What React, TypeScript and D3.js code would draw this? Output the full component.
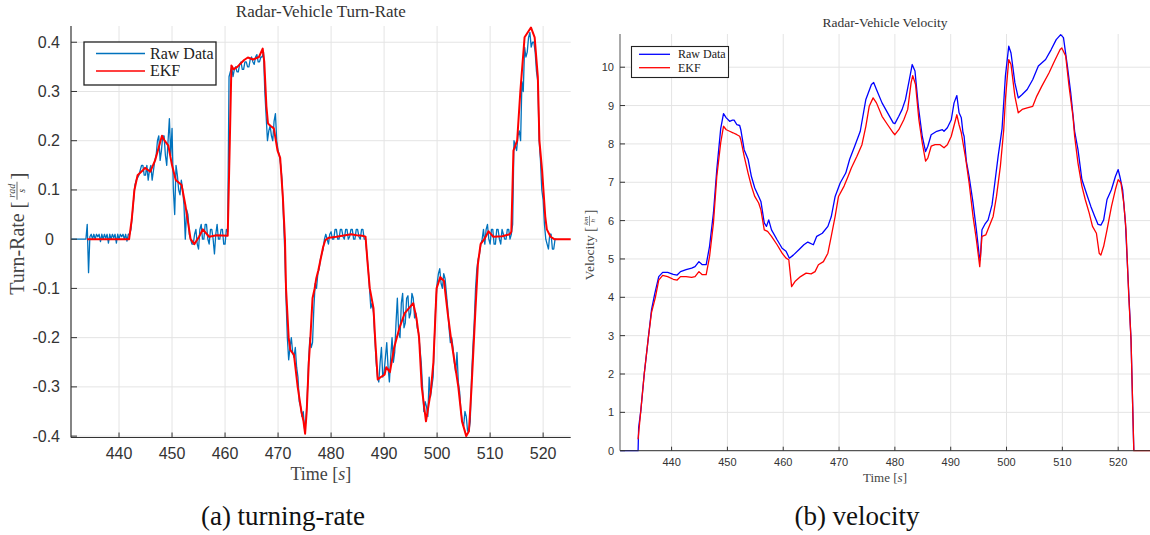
import React from 'react';
import * as d3 from 'd3';

// ---------- Data ----------
const timeTicks = [440, 450, 460, 470, 480, 490, 500, 510, 520];
const turnYTicks = [0.4, 0.3, 0.2, 0.1, 0, -0.1, -0.2, -0.3, -0.4];
const turnYTickLabels = ['0.4', '0.3', '0.2', '0.1', '0', '-0.1', '-0.2', '-0.3', '-0.4'];
const velYTicks = [0, 1, 2, 3, 4, 5, 6, 7, 8, 9, 10];

// raw turn-rate samples, every 0.25 s starting at 431 s (one row = 5 s)
const turnRawStart = 431;
const turnRawStep = 0.25;
const turnRaw = [
  0, 0, 0, 0, 0, 0, 0, 0, 0, 0, 0, 0, 0.03, -0.068, 0.005, 0.01, 0, 0.01, 0, 0.01,
  0.005, 0.01, -0.005, 0.01, 0, 0.01, 0.002, 0.01, -0.008, 0.01, 0, 0.01, 0.003, 0.01, -0.008, 0.01, 0, 0.01, 0.005, 0.01,
  0, 0.01, -0.004, 0.01, 0.01, 0.02, 0.05, 0.08, 0.11, 0.12, 0.125, 0.13, 0.14, 0.15, 0.15, 0.13, 0.13, 0.15, 0.12, 0.14,
  0.15, 0.12, 0.14, 0.16, 0.17, 0.2, 0.21, 0.16, 0.18, 0.21, 0.21, 0.17, 0.15, 0.2, 0.245, 0.17, 0.225, 0.1, 0.05, 0.15,
  0.13, 0.1, 0.09, 0.12, 0.1, 0.07, 0.0, 0.06, 0.05, 0.01, 0.0, -0.01, -0.01, 0.01, 0.02, -0.01, -0.02, 0.02, 0.03, 0.0,
  0.0, 0.03, 0.03, 0.0, -0.01, 0.02, 0.02, 0.0, -0.03, 0.01, 0.03, 0.0, 0.0, 0.02, 0.02, -0.01, -0.01, 0.02, 0.015, 0.33,
  0.34, 0.35, 0.33, 0.345, 0.35, 0.34, 0.34, 0.355, 0.36, 0.345, 0.345, 0.36, 0.36, 0.35, 0.35, 0.365, 0.37, 0.36, 0.355, 0.37,
  0.375, 0.36, 0.36, 0.37, 0.37, 0.38, 0.3, 0.25, 0.2, 0.22, 0.23, 0.21, 0.2, 0.24, 0.255, 0.2, 0.18, 0.17, 0.15, 0.12,
  0.05, -0.02, -0.12, -0.2, -0.245, -0.22, -0.2, -0.23, -0.24, -0.22, -0.26, -0.28, -0.33, -0.34, -0.36, -0.35, -0.385, -0.37, -0.32, -0.25,
  -0.2, -0.22, -0.21, -0.14, -0.09, -0.1, -0.07, -0.06, -0.04, -0.03, -0.02, 0.0, 0.01, 0.0, -0.01, 0.01, 0.015, 0.0, 0.0, 0.02,
  0.02, 0.0, 0.0, 0.02, 0.02, 0.005, 0.0, 0.02, 0.02, 0.0, 0.005, 0.02, 0.02, 0.0, 0.0, 0.02, 0.02, 0.005, 0.0, 0.02,
  0.02, 0.0, 0.0, -0.03, -0.06, -0.1, -0.14, -0.13, -0.15, -0.2, -0.25, -0.28, -0.29, -0.25, -0.22, -0.28, -0.27, -0.24, -0.21, -0.26,
  -0.29, -0.24, -0.2, -0.25, -0.23, -0.17, -0.12, -0.19, -0.2, -0.13, -0.11, -0.18, -0.17, -0.12, -0.115, -0.16, -0.15, -0.11, -0.12, -0.16,
  -0.15, -0.18, -0.19, -0.22, -0.25, -0.3, -0.35, -0.33, -0.34, -0.36, -0.28, -0.32, -0.3, -0.28, -0.2, -0.13, -0.09, -0.07, -0.06, -0.09,
  -0.1, -0.07, -0.08, -0.11, -0.14, -0.18, -0.21, -0.2, -0.22, -0.25, -0.27, -0.23, -0.29, -0.31, -0.35, -0.37, -0.38, -0.35, -0.36, -0.39,
  -0.39, -0.37, -0.28, -0.22, -0.17, -0.1, -0.06, -0.04, -0.03, -0.01, 0.0, 0.02, -0.01, 0.02, 0.03, 0.0, -0.01, 0.02, 0.02, -0.01,
  -0.01, 0.02, 0.02, 0.0, -0.01, 0.02, 0.01, 0.0, 0.0, 0.02, 0.02, 0.0, 0.01, 0.03, 0.2, 0.19, 0.18, 0.21, 0.22, 0.2,
  0.32, 0.3, 0.39, 0.37, 0.38, 0.41, 0.42, 0.39, 0.4, 0.4, 0.38, 0.34, 0.32, 0.2, 0.16, 0.1, 0.08, 0.03, 0.0, -0.01,
  -0.02, 0.01, 0.01, -0.02, -0.02, 0.0, 0.0,
];

const turnEkf: [number, number][] = [
  [434.0, 0], [441.9, 0], [442.4, 0.04], [442.9, 0.1], [443.5, 0.13], [444.5, 0.14], [444.9, 0.145],
  [445.9, 0.137], [446.8, 0.16], [448.1, 0.21], [448.6, 0.2], [449.3, 0.19], [450.0, 0.15],
  [450.7, 0.12], [451.8, 0.11], [452.5, 0.07], [453.5, 0.0], [454.2, -0.01], [455.1, 0.005],
  [455.8, 0.02], [457.0, 0.005], [458.4, 0.008], [460.5, 0.007], [460.9, 0.2], [461.2, 0.353],
  [461.6, 0.345], [462.3, 0.35], [463.6, 0.364], [464.3, 0.369], [465.3, 0.365], [466.4, 0.37],
  [467.1, 0.387], [467.4, 0.36], [467.8, 0.27], [468.1, 0.235], [468.6, 0.23], [469.2, 0.225],
  [469.9, 0.18], [470.4, 0.165], [470.9, 0.086], [471.3, 0.0], [471.5, -0.1], [472.0, -0.2],
  [472.3, -0.225], [473.0, -0.235], [473.7, -0.3], [474.4, -0.35], [474.8, -0.37], [475.1, -0.395],
  [475.4, -0.35], [475.8, -0.25], [476.1, -0.2], [476.5, -0.12], [476.9, -0.1], [477.2, -0.08],
  [477.6, -0.063], [478.5, -0.016], [478.9, -0.002], [479.6, 0.003], [481.0, 0.005], [482.7, 0.008],
  [483.8, 0.01], [484.8, 0.008], [485.9, 0.007], [486.5, 0.005], [486.9, -0.05], [487.3, -0.1],
  [488.0, -0.14], [488.3, -0.2], [488.8, -0.285], [489.4, -0.28], [490.1, -0.275], [490.4, -0.26],
  [491.1, -0.27], [491.9, -0.22], [492.9, -0.18], [493.9, -0.15], [495.1, -0.135], [495.5, -0.13],
  [496.1, -0.16], [496.6, -0.2], [497.1, -0.3], [497.9, -0.37], [498.5, -0.33], [498.8, -0.31],
  [499.3, -0.25], [499.9, -0.1], [500.6, -0.077], [501.3, -0.085], [502.0, -0.15], [502.6, -0.2],
  [503.3, -0.25], [504.0, -0.3], [504.7, -0.37], [505.5, -0.4], [506.0, -0.39], [506.5, -0.3],
  [507.2, -0.15], [507.7, -0.05], [508.2, -0.01], [508.9, 0.0], [509.7, 0.016], [510.6, 0.005],
  [512.3, 0.006], [513.7, 0.01], [514.0, 0.015], [514.4, 0.18], [515.1, 0.2], [515.7, 0.3],
  [516.5, 0.41], [517.7, 0.43], [518.4, 0.41], [519.0, 0.33], [519.3, 0.2], [519.8, 0.14],
  [520.4, 0.046], [520.7, 0.02], [521.4, 0.005], [522.1, 0], [525.2, 0],
];

const velRaw: [number, number][] = [
  [430.8, 0], [434.0, 0], [434.1, 0.6], [434.5, 1.06], [435.1, 2.0], [435.8, 2.9], [436.4, 3.67],
  [437.0, 4.1], [437.7, 4.54], [438.4, 4.65], [439.3, 4.65], [440.3, 4.6], [441.0, 4.58],
  [441.6, 4.67], [442.6, 4.72], [443.6, 4.76], [444.2, 4.8], [444.9, 4.93], [445.5, 4.85],
  [446.2, 4.85], [446.8, 5.33], [447.5, 6.2], [448.1, 7.33], [448.8, 8.4], [449.3, 8.79],
  [449.8, 8.68], [450.4, 8.59], [450.9, 8.62], [451.2, 8.62], [451.7, 8.5], [452.2, 8.48],
  [452.4, 8.37], [453.0, 7.85], [453.7, 7.6], [454.3, 7.15], [454.9, 6.85], [455.6, 6.63],
  [456.0, 6.5], [456.6, 5.94], [457.0, 5.85], [457.4, 6.02], [457.9, 5.76], [458.9, 5.5],
  [459.8, 5.28], [460.5, 5.2], [461.1, 5.02], [461.8, 5.1], [462.8, 5.24], [463.7, 5.37],
  [464.4, 5.44], [465.4, 5.37], [466.0, 5.59], [467.0, 5.67], [468.0, 5.85], [468.6, 6.1],
  [469.3, 6.63], [470.2, 6.98], [471.2, 7.24], [471.9, 7.6], [472.8, 7.94], [473.8, 8.33],
  [474.8, 9.16], [475.8, 9.55], [476.2, 9.6], [476.7, 9.42], [477.7, 9.07], [478.7, 8.81],
  [479.7, 8.55], [480.0, 8.53], [480.7, 8.72], [481.3, 8.9], [481.9, 9.16], [482.6, 9.68],
  [483.1, 10.07], [483.6, 9.9], [484.2, 8.98], [484.9, 8.2], [485.5, 7.8], [485.9, 7.94],
  [486.5, 8.24], [487.5, 8.33], [488.5, 8.37], [488.8, 8.33], [489.4, 8.42], [490.1, 8.63],
  [490.6, 9.07], [491.1, 9.26], [491.5, 8.81], [491.9, 8.68], [492.2, 8.29], [492.4, 8.2],
  [492.8, 7.55], [493.3, 7.15], [494.0, 6.46], [494.6, 5.76], [495.1, 5.1], [495.3, 4.98],
  [495.6, 5.76], [496.1, 5.9], [496.7, 6.02], [497.4, 6.41], [497.9, 6.98], [498.5, 7.68],
  [499.2, 8.4], [499.8, 9.77], [500.4, 10.55], [500.8, 10.37], [501.5, 9.59], [502.1, 9.2],
  [502.8, 9.29], [503.7, 9.42], [504.7, 9.68], [505.7, 10.03], [507.0, 10.2], [508.0, 10.46],
  [508.9, 10.72], [509.7, 10.85], [510.2, 10.77], [510.9, 10.03], [511.5, 9.33], [512.2, 8.33],
  [512.8, 7.85], [513.5, 7.07], [514.5, 6.63], [515.1, 6.37], [515.8, 6.11], [516.4, 5.9],
  [516.9, 5.88], [517.4, 6.02], [518.0, 6.55], [518.8, 6.81], [519.5, 7.15], [520.0, 7.33],
  [520.3, 7.15], [520.8, 6.81], [521.3, 5.94], [521.9, 4.1], [522.3, 2.9], [522.6, 1.15], [522.8, 0],
];

const velEkf: [number, number][] = [
  [434.0, 0.3], [434.5, 1.06], [435.1, 2.0], [435.8, 2.9], [436.4, 3.6], [437.1, 4.0], [437.7, 4.45],
  [438.4, 4.57], [439.3, 4.54], [440.3, 4.47], [441.0, 4.45], [441.6, 4.54], [442.6, 4.54],
  [443.6, 4.52], [444.2, 4.54], [444.9, 4.67], [445.5, 4.59], [446.2, 4.59], [446.8, 5.06],
  [447.5, 5.94], [448.1, 7.15], [448.8, 8.03], [449.3, 8.46], [449.8, 8.37], [450.4, 8.33],
  [451.0, 8.29], [451.7, 8.24], [452.2, 8.2], [452.4, 8.11], [453.0, 7.68], [453.7, 7.24],
  [454.3, 6.9], [454.9, 6.63], [455.6, 6.46], [456.0, 6.28], [456.6, 5.76], [457.2, 5.72],
  [457.9, 5.59], [458.9, 5.37], [459.8, 5.15], [460.5, 5.02], [461.0, 4.98], [461.5, 4.28],
  [462.1, 4.41], [463.1, 4.54], [464.1, 4.63], [465.0, 4.61], [465.7, 4.67], [466.3, 4.85],
  [467.2, 4.93], [468.0, 5.15], [468.6, 5.59], [469.3, 6.11], [469.9, 6.63], [470.9, 6.9],
  [471.5, 7.11], [472.2, 7.37], [473.2, 7.68], [474.1, 7.98], [474.8, 8.46], [475.4, 8.98],
  [476.1, 9.2], [476.7, 9.07], [477.7, 8.72], [478.7, 8.5], [479.7, 8.29], [480.0, 8.24],
  [480.7, 8.37], [481.6, 8.63], [482.3, 8.9], [482.9, 9.59], [483.2, 9.78], [483.7, 9.55],
  [484.3, 8.63], [484.9, 8.03], [485.5, 7.55], [485.9, 7.63], [486.5, 7.94], [487.2, 7.98],
  [488.1, 7.98], [488.8, 7.9], [489.4, 7.98], [490.1, 8.2], [490.4, 8.37], [491.1, 8.76],
  [491.5, 8.5], [491.9, 8.29], [492.0, 8.2], [492.7, 7.6], [493.3, 6.98], [494.0, 6.11],
  [494.6, 5.5], [495.2, 4.8], [495.6, 5.59], [496.3, 5.63], [496.9, 5.85], [497.6, 6.11],
  [498.2, 6.63], [498.9, 7.42], [499.5, 8.37], [499.8, 9.16], [500.4, 10.2], [500.8, 10.07],
  [501.5, 9.24], [502.1, 8.81], [502.8, 8.9], [503.7, 8.94], [504.7, 8.98], [505.4, 9.24],
  [506.3, 9.5], [507.6, 9.85], [508.6, 10.16], [509.6, 10.46], [509.9, 10.5], [510.6, 10.29],
  [511.2, 9.5], [511.9, 8.72], [512.2, 8.2], [512.8, 7.5], [513.5, 6.9], [514.1, 6.55],
  [514.8, 6.2], [515.4, 5.85], [516.1, 5.67], [516.6, 5.15], [516.9, 5.1], [517.4, 5.33],
  [518.0, 5.76], [518.8, 6.37], [519.5, 6.81], [520.0, 7.07], [520.5, 6.98], [521.0, 6.46],
  [521.4, 5.76], [521.9, 4.02], [522.3, 2.9], [522.6, 1.15], [522.8, 0], [525.7, 0],
];

// ---------- Styling ----------
const SANS = '"Liberation Sans", Arial, Helvetica, sans-serif';
const SERIF = '"Liberation Serif", "Times New Roman", serif';
const GRID = '#e4e4e4';
const AXIS = '#333333';
const TXT = '#333333';

export default function App() {
  // Left panel scales
  const lx = d3.scaleLinear().domain([430.94, 525.2]).range([71, 570.7]);
  const ly = d3.scaleLinear().domain([-0.4028, 0.433]).range([437.5, 26]);
  // Right panel scales
  const rx = d3.scaleLinear().domain([430.76, 525.7]).range([620, 1150]);
  const ry = d3.scaleLinear().domain([0, 10.866]).range([450.7, 34]);

  const turnRawPts: [number, number][] = turnRaw.map((v, i) => [turnRawStart + i * turnRawStep, v]);

  const lLine = d3.line<[number, number]>().x(d => lx(d[0])).y(d => ly(d[1]));
  const rLine = d3.line<[number, number]>().x(d => rx(d[0])).y(d => ry(d[1]));

  const [lx0, lx1] = lx.range();
  const [ly0, ly1] = ly.range();
  const [rx0, rx1] = rx.range();
  const [ry0, ry1] = ry.range();

  return (
    <svg width={1150} height={535} style={{ position: 'absolute', left: 0, top: 0, background: '#fff' }}>
      <rect x={0} y={0} width={1150} height={535} fill="#fff" />

      {/* ================= LEFT PANEL ================= */}
      <g>
        {timeTicks.map(t => (
          <line key={'lgx' + t} x1={lx(t)} x2={lx(t)} y1={ly0} y2={ly1} stroke={GRID} strokeWidth={1} />
        ))}
        {turnYTicks.map(v => (
          <line key={'lgy' + v} x1={lx0} x2={lx1} y1={ly(v)} y2={ly(v)} stroke={GRID} strokeWidth={1} />
        ))}
        <path d={lLine(turnRawPts) || ''} fill="none" stroke="#0072BD" strokeWidth={1.3} strokeLinejoin="round" />
        <path d={lLine(turnEkf) || ''} fill="none" stroke="#FF0000" strokeWidth={2} strokeLinejoin="round" />
        <line x1={lx0} x2={lx1} y1={ly0} y2={ly0} stroke={AXIS} strokeWidth={1.2} />
        <line x1={lx0} x2={lx0} y1={ly0} y2={ly1} stroke={AXIS} strokeWidth={1.2} />
        {timeTicks.map(t => (
          <g key={'ltx' + t}>
            <line x1={lx(t)} x2={lx(t)} y1={ly0} y2={ly0 - 5} stroke={AXIS} strokeWidth={1} />
            <text x={lx(t)} y={459} textAnchor="middle" fontFamily={SANS} fontSize={16} fill={TXT}>{t}</text>
          </g>
        ))}
        {turnYTicks.map((v, i) => (
          <g key={'lty' + v}>
            <line x1={lx0} x2={lx0 + 6} y1={ly(v)} y2={ly(v)} stroke={AXIS} strokeWidth={1} />
            <text x={turnYTickLabels[i] === '0' ? 49.5 : 60} y={ly(v) + 5.5}
              textAnchor={turnYTickLabels[i] === '0' ? 'middle' : 'end'}
              fontFamily={SANS} fontSize={16} fill={TXT}>{turnYTickLabels[i]}</text>
          </g>
        ))}
        <text x={(lx0 + lx1) / 2} y={16.5} textAnchor="middle" fontFamily={SERIF} fontSize={17} fill={TXT}>
          Radar-Vehicle Turn-Rate
        </text>
        <text x={(lx0 + lx1) / 2} y={480} textAnchor="middle" fontFamily={SERIF} fontSize={18} fill="#444">
          Time [<tspan fontStyle="italic">s</tspan>]
        </text>
        <g transform={`translate(17,${(ly0 + ly1) / 2}) rotate(-90)`} fill="#444" fontFamily={SERIF}>
          <text x={-63} y={7} fontSize={20}>Turn-Rate</text>
          <text x={23} y={8} fontSize={22}>[</text>
          <text x={41} y={-2.5} fontSize={10} fontStyle="italic" textAnchor="middle">rad</text>
          <line x1={32} x2={50} y1={0} y2={0} stroke="#444" strokeWidth={0.8} />
          <text x={41} y={8} fontSize={10} fontStyle="italic" textAnchor="middle">s</text>
          <text x={52} y={8} fontSize={22}>]</text>
        </g>
        <rect x={84} y={42} width={132} height={43} fill="#fff" stroke="#222" strokeWidth={1.3} />
        <line x1={96} x2={145} y1={53.5} y2={53.5} stroke="#0072BD" strokeWidth={1.6} />
        <line x1={96} x2={145} y1={71} y2={71} stroke="#FF0000" strokeWidth={1.6} />
        <text x={150} y={58.5} fontFamily={SERIF} fontSize={16} fill="#222">Raw Data</text>
        <text x={150} y={76} fontFamily={SERIF} fontSize={16} fill="#222">EKF</text>
      </g>

      {/* ================= RIGHT PANEL ================= */}
      <g>
        {timeTicks.map(t => (
          <line key={'rgx' + t} x1={rx(t)} x2={rx(t)} y1={ry0} y2={ry1} stroke={GRID} strokeWidth={1} />
        ))}
        {velYTicks.map(v => (
          <line key={'rgy' + v} x1={rx0} x2={rx1} y1={ry(v)} y2={ry(v)} stroke={GRID} strokeWidth={1} />
        ))}
        <path d={rLine(velRaw) || ''} fill="none" stroke="#0000FF" strokeWidth={1.3} strokeLinejoin="round" />
        <path d={rLine(velEkf) || ''} fill="none" stroke="#FF0000" strokeWidth={1.3} strokeLinejoin="round" />
        <line x1={rx0} x2={rx1} y1={ry0} y2={ry0} stroke={AXIS} strokeWidth={1} />
        <line x1={rx0} x2={rx0} y1={ry0} y2={ry1} stroke="#555" strokeWidth={1} />
        {timeTicks.map(t => (
          <g key={'rtx' + t}>
            <line x1={rx(t)} x2={rx(t)} y1={ry0} y2={ry0 - 4} stroke={AXIS} strokeWidth={1} />
            <text x={rx(t)} y={466} textAnchor="middle" fontFamily={SANS} fontSize={11} fill={TXT}>{t}</text>
          </g>
        ))}
        {velYTicks.map(v => (
          <g key={'rty' + v}>
            <line x1={rx0} x2={rx0 + 5} y1={ry(v)} y2={ry(v)} stroke={AXIS} strokeWidth={1} />
            <text x={614} y={ry(v) + 4} textAnchor="end" fontFamily={SANS} fontSize={11} fill={TXT}>{v}</text>
          </g>
        ))}
        <text x={(rx0 + rx1) / 2} y={27} textAnchor="middle" fontFamily={SERIF} fontSize={13.5} fill={TXT}>
          Radar-Vehicle Velocity
        </text>
        <text x={(rx0 + rx1) / 2} y={482} textAnchor="middle" fontFamily={SERIF} fontSize={13} fill="#444">
          Time [<tspan fontStyle="italic">s</tspan>]
        </text>
        <g transform={`translate(589,${(ry0 + ry1) / 2}) rotate(-90)`} fill="#444" fontFamily={SERIF}>
          <text x={-38} y={5} fontSize={13.5}>Velocity</text>
          <text x={10.5} y={5.5} fontSize={14}>[</text>
          <text x={21.5} y={-1.5} fontSize={7} fontStyle="italic" textAnchor="middle">km</text>
          <line x1={16.5} x2={26.5} y1={0.5} y2={0.5} stroke="#444" strokeWidth={0.6} />
          <text x={21.5} y={6} fontSize={7} fontStyle="italic" textAnchor="middle">h</text>
          <text x={28} y={5.5} fontSize={14}>]</text>
        </g>
        <rect x={631.5} y={46.5} width={97} height={31} fill="#fff" stroke="#222" strokeWidth={1.1} />
        <line x1={639} x2={670} y1={54.3} y2={54.3} stroke="#0000FF" strokeWidth={1.3} />
        <line x1={639} x2={670} y1={67.7} y2={67.7} stroke="#FF0000" strokeWidth={1.3} />
        <text x={678} y={58.3} fontFamily={SERIF} fontSize={12} fill="#222">Raw Data</text>
        <text x={678} y={71.7} fontFamily={SERIF} fontSize={12} fill="#222">EKF</text>
      </g>

      <text x={283} y={525} textAnchor="middle" fontFamily={SERIF} fontSize={27} fill="#111">(a) turning-rate</text>
      <text x={857} y={525} textAnchor="middle" fontFamily={SERIF} fontSize={27} fill="#111">(b) velocity</text>
    </svg>
  );
}
